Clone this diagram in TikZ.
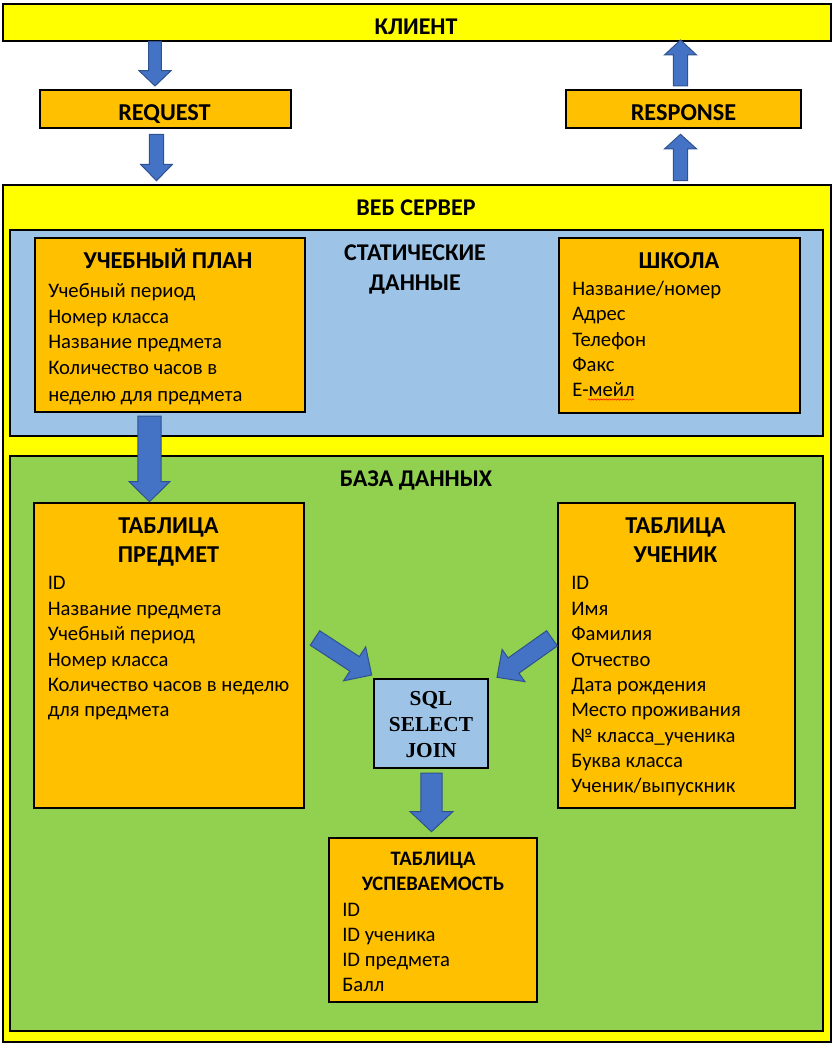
\documentclass[tikz,border=0pt]{standalone}
\usepackage{fontspec}
\setmainfont{Carlito}
\newfontfamily\timesf{Liberation Serif}
\usetikzlibrary{calc,fit,decorations.pathmorphing}
\definecolor{cyellow}{HTML}{FFFF00}
\definecolor{corange}{HTML}{FFC000}
\definecolor{cblue}{HTML}{9DC3E6}
\definecolor{cgreen}{HTML}{92D050}
\definecolor{carrow}{HTML}{4472C4}
\definecolor{carrowline}{HTML}{2F528F}
\newcommand\blockarrow[5]{%
  \coordinate (ba-h) at ($(#2)!#5!(#1)$);
  \filldraw[barrow] ($(#1)!#3!90:(#2)$) -- ($(ba-h)!#3!90:(#2)$) -- ($(ba-h)!#4!90:(#2)$) -- (#2)
    -- ($(ba-h)!#4!-90:(#2)$) -- ($(ba-h)!#3!-90:(#2)$) -- ($(#1)!#3!-90:(#2)$) -- cycle;
}
\begin{document}
\begin{tikzpicture}[x=0.75pt,y=-0.75pt,
  box/.style={draw=black, line width=0.8pt, inner sep=0pt, fit={#1}},
  ybox/.style={box={#1}, fill=cyellow},
  obox/.style={box={#1}, fill=corange},
  bbox/.style={box={#1}, fill=cblue},
  gbox/.style={box={#1}, fill=cgreen},
  hdr/.style={inner sep=0pt, font=\bfseries\fontsize{18}{22}\selectfont, text height=11.6pt, text depth=0pt},
  big/.style={inner sep=0pt, font=\bfseries\fontsize{18.2}{22}\selectfont, text height=11.7pt, text depth=0pt},
  smalltitle/.style={inner sep=0pt, font=\bfseries\fontsize{15.4}{18}\selectfont, text height=9.9pt, text depth=0pt},
  field/.style={anchor=west, inner sep=0pt, font=\fontsize{15.5}{19}\selectfont, text height=10pt, text depth=0pt},
  sfield/.style={anchor=west, inner sep=0pt, font=\fontsize{15.5}{19}\selectfont, text height=10pt, text depth=0pt},
  sqlt/.style={inner sep=0pt, font=\timesf\bfseries\fontsize{16}{19}\selectfont, text height=10.6pt, text depth=0pt},
  barrow/.style={fill=carrow, draw=carrowline, line width=0.75pt, line join=miter},
]
\useasboundingbox (0,0) rectangle (834,1045);

% boxes
\node[ybox={(3,4) (831,41)}] (client) {};
\node[obox={(40,90) (291,128)}] (req) {};
\node[obox={(566,90) (801,128)}] (resp) {};
\node[ybox={(3,185) (831,1042)}] (web) {};
\node[bbox={(10,230) (823,436)}] (static) {};
\node[obox={(35,238) (305,412)}] (plan) {};
\node[obox={(559,238) (800,413)}] (school) {};
\node[gbox={(10,456) (823,1031)}] (db) {};
\node[obox={(34,503) (304,808)}] (subj) {};
\node[obox={(558,503) (795,808)}] (stud) {};
\node[bbox={(374,679) (488,768)}] (sql) {};
\node[obox={(329,838) (537,1002)}] (grade) {};

% titles
\node[hdr] (clientT) at (416,27) {КЛИЕНТ};
\node[big] (reqT) at (164.5,112.5) {REQUEST};
\node[big] (respT) at (683.5,112.5) {RESPONSE};
\node[hdr] (webT) at (416,208) {ВЕБ СЕРВЕР};
\node[hdr] (staticT1) at (415,253) {СТАТИЧЕСКИЕ};
\node[hdr] (staticT2) at (415,283) {ДАННЫЕ};
\node[big] (planT) at (168,261) {УЧЕБНЫЙ ПЛАН};
\node[big] (schoolT) at (679,261) {ШКОЛА};
\node[hdr] (dbT) at (416,478.5) {БАЗА ДАННЫХ};
\node[big] (subjT1) at (168.5,526) {ТАБЛИЦА};
\node[big] (subjT2) at (168.5,555) {ПРЕДМЕТ};
\node[big] (studT1) at (675.5,526) {ТАБЛИЦА};
\node[big] (studT2) at (675.5,555) {УЧЕНИК};
\node[sqlt] (sql1) at (431,698) {SQL};
\node[sqlt] (sql2) at (431,724) {SELECT};
\node[sqlt] (sql3) at (431,750) {JOIN};
\node[smalltitle] (gradeT1) at (433,859) {ТАБЛИЦА};
\node[smalltitle] (gradeT2) at (433,883.5) {УСПЕВАЕМОСТЬ};

% fields: plan
\node[field] (pl1) at (48,291) {Учебный период};
\node[field] (pl2) at (48,317) {Номер класса};
\node[field] (pl3) at (48,342) {Название предмета};
\node[field] (pl4) at (48,368) {Количество часов в};
\node[field] (pl5) at (48,394.5) {неделю для предмета};
% school
\node[field] (sc1) at (572,289) {Название/номер};
\node[field] (sc2) at (572,314) {Адрес};
\node[field] (sc3) at (572,340) {Телефон};
\node[field] (sc4) at (572,365) {Факс};
\node[field] (sc5) at (572,390) {Е-мейл};
\draw[red, line width=0.4pt, decorate, decoration={snake, amplitude=0.5pt, segment length=2.2pt}] (588,399.5) -- (634,399.5);
% subject
\node[field] (su1) at (47.5,583) {ID};
\node[field] (su2) at (47.5,609) {Название предмета};
\node[field] (su3) at (47.5,634) {Учебный период};
\node[field] (su4) at (47.5,660) {Номер класса};
\node[field] (su5) at (47.5,685) {Количество часов в неделю};
\node[field] (su6) at (47.5,710) {для предмета};
% student
\node[field] (st1) at (571,583) {ID};
\node[field] (st2) at (571,609) {Имя};
\node[field] (st3) at (571,634) {Фамилия};
\node[field] (st4) at (571,660) {Отчество};
\node[field] (st5) at (571,685) {Дата рождения};
\node[field] (st6) at (571,710) {Место проживания};
\node[field] (st7) at (571,736) {№ класса\_ученика};
\node[field] (st8) at (571,761) {Буква класса};
\node[field] (st9) at (571,786) {Ученик/выпускник};
% grade
\node[sfield] (gr1) at (342,909.5) {ID};
\node[sfield] (gr2) at (342,934.5) {ID ученика};
\node[sfield] (gr3) at (342,960) {ID предмета};
\node[sfield] (gr4) at (342,985) {Балл};

% arrows
\coordinate (a1s) at (155,41.5);   \coordinate (a1t) at (155,86);
\coordinate (a2s) at (156.5,134.5); \coordinate (a2t) at (156.5,180.7);
\coordinate (a3s) at (680.5,86);   \coordinate (a3t) at (680.5,40);
\coordinate (a4s) at (680.5,180.7); \coordinate (a4t) at (680.5,134.3);
\coordinate (a5s) at (149.5,416);  \coordinate (a5t) at (149.5,501.7);
\coordinate (a6s) at (315,638);    \coordinate (a6t) at (371.7,675);
\coordinate (a7s) at (552,638.3);  \coordinate (a7t) at (497,677.3);
\coordinate (a8s) at (431.5,773);  \coordinate (a8t) at (431.5,831.7);
\blockarrow{a1s}{a1t}{4.7pt}{12pt}{11.5pt}
\blockarrow{a2s}{a2t}{5.4pt}{12pt}{12.3pt}
\blockarrow{a3s}{a3t}{5.4pt}{12pt}{11.2pt}
\blockarrow{a4s}{a4t}{5.4pt}{12pt}{10.9pt}
\blockarrow{a5s}{a5t}{8.8pt}{15.2pt}{15pt}
\blockarrow{a6s}{a6t}{6.5pt}{15.2pt}{15.3pt}
\blockarrow{a7s}{a7t}{7pt}{14.8pt}{15.2pt}
\blockarrow{a8s}{a8t}{8pt}{16pt}{15pt}
\end{tikzpicture}
\end{document}
